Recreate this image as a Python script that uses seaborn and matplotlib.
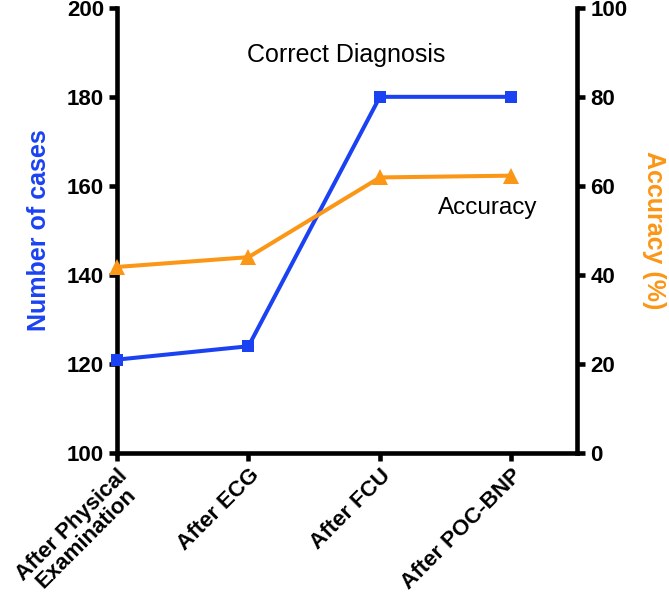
import matplotlib
matplotlib.use("Agg")
import matplotlib.pyplot as plt
import seaborn as sns
import pandas as pd

# data
steps = ["After Physical\nExamination", "After ECG", "After FCU", "After POC-BNP"]
correct_cases = [121, 124, 180, 180]
accuracy_pct = [41.8, 44.0, 61.9, 62.3]

BLUE = "#1a42f2"
ORANGE = "#fb9616"

sns.set_style("ticks")
plt.rcParams["font.family"] = ["Liberation Sans", "DejaVu Sans"]
plt.rcParams["text.color"] = "black"
plt.rcParams["xtick.color"] = "black"
plt.rcParams["ytick.color"] = "black"

df = pd.DataFrame({"step": range(len(steps)), "cases": correct_cases, "acc": accuracy_pct})

fig = plt.figure(figsize=(6.69, 5.97), dpi=100)
ax = fig.add_axes([0.175, 0.241, 0.6875, 0.746])
ax2 = ax.twinx()

sns.lineplot(data=df, x="step", y="cases", ax=ax, color=BLUE, linewidth=2.9,
             marker="s", markersize=9, markeredgewidth=0, clip_on=False, zorder=5)
sns.lineplot(data=df, x="step", y="acc", ax=ax2, color=ORANGE, linewidth=2.9,
             marker="^", markersize=11, markeredgewidth=0, clip_on=False, zorder=5)

ax.set_xlim(0, 3.5)
ax.set_ylim(100, 200)
ax2.set_ylim(0, 100)
ax.set_yticks(range(100, 201, 20))
ax2.set_yticks(range(0, 101, 20))
ax.set_xticks(range(len(steps)))
ax.set_xticklabels(steps, rotation=45, ha="right", rotation_mode="anchor",
                   fontsize=15, fontweight="bold", multialignment="center")

# smaller two-line label so it stays inside the figure
first = ax.get_xticklabels()[0]
first.set_linespacing(0.9)
first.set_fontsize(13)

for a in (ax, ax2):
    for side in a.spines:
        a.spines[side].set_linewidth(3.3)
        a.spines[side].set_color("black")
    a.spines["top"].set_visible(False)
    a.tick_params(width=3.3, length=6, labelsize=16, direction="out", colors="black")
    for lab in a.get_yticklabels():
        lab.set_fontweight("bold")
ax.tick_params(axis="x", pad=2.5)
ax.spines["right"].set_visible(False)
ax2.spines["left"].set_visible(False)
ax2.spines["bottom"].set_visible(False)

ax.set_xlabel("")
ax.set_ylabel("Number of cases", color=BLUE, fontsize=18, fontweight="bold", labelpad=11)
ax2.set_ylabel("Accuracy (%)", color=ORANGE, fontsize=18, fontweight="bold",
               rotation=270, labelpad=28)

ax.text(1.74, 189.5, "Correct Diagnosis", ha="center", va="center", fontsize=18)
ax.text(2.82, 155, "Accuracy", ha="center", va="center", fontsize=17.5)

fig.savefig("out.png", dpi=100)
